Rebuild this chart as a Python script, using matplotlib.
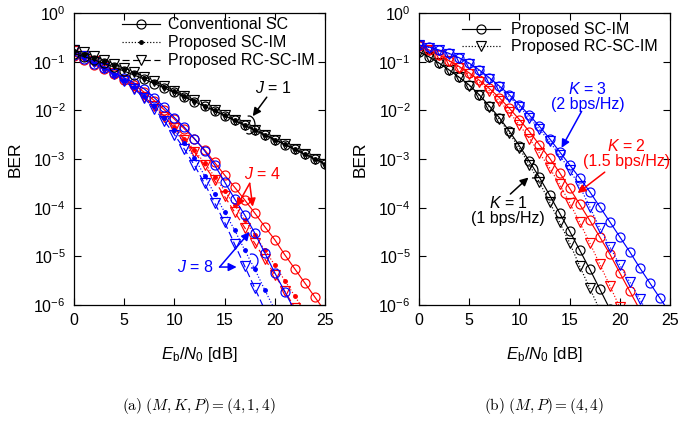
import numpy as np
import matplotlib
matplotlib.use("Agg")
import matplotlib.pyplot as plt
from matplotlib.patches import Arc
from matplotlib.font_manager import FontProperties

plt.rcParams['font.family'] = ['Liberation Sans', 'DejaVu Sans']
plt.rcParams['mathtext.fontset'] = 'custom'
plt.rcParams['mathtext.rm'] = 'Liberation Sans'
plt.rcParams['mathtext.it'] = 'Liberation Sans:italic'
plt.rcParams['mathtext.bf'] = 'Liberation Sans:bold'

# ---------------- data (log10 BER) ----------------
snr = list(range(0, 26))

# (a) (M,K,P) = (4,1,4)
a_j1_conv = [-0.835, -0.896, -0.963, -1.036, -1.113, -1.194, -1.276, -1.361, -1.450, -1.541,
             -1.633, -1.727, -1.821, -1.917, -2.013, -2.112, -2.208, -2.310, -2.409, -2.508,
             -2.605, -2.704, -2.803, -2.903, -3.000, -3.102]
a_j1_scim = [-0.783, -0.848, -0.917, -0.991, -1.071, -1.155, -1.237, -1.328, -1.420, -1.516,
             -1.611, -1.708, -1.804, -1.903, -2.000, -2.102, -2.201, -2.301, -2.398, -2.502,
             -2.602, -2.699, -2.801, -2.900, -3.000, -3.102]
a_j1_rc = [-0.770, -0.810, -0.886, -0.963, -1.046, -1.131, -1.215, -1.310, -1.403, -1.502,
           -1.602, -1.699, -1.796, -1.896, -1.996, -2.097, -2.201, -2.301, -2.398, -2.502,
           -2.602, -2.699, -2.801, -2.900, -3.000, -3.102]

a_j4_conv = [-0.88, -0.97, -1.06, -1.16, -1.26, -1.37, -1.47, -1.63, -1.80, -1.99,
             -2.18, -2.38, -2.59, -2.81, -3.07, -3.33, -3.58, -3.84, -4.11, -4.39,
             -4.66, -4.97, -5.26, -5.55, -5.84, -6.13]
a_j4_scim = [-0.83, -0.93, -1.04, -1.15, -1.27, -1.40, -1.55, -1.72, -1.92, -2.13,
             -2.35, -2.58, -2.82, -3.08, -3.36, -3.65, -3.95, -4.25, -4.56, -4.87,
             -5.18, -5.50, -5.82, -6.14]
a_j4_rc = [-0.78, -0.88, -0.99, -1.11, -1.24, -1.38, -1.54, -1.72, -1.92, -2.13,
           -2.36, -2.60, -2.86, -3.13, -3.44, -3.77, -4.09, -4.41, -4.73, -5.05,
           -5.38, -5.72, -6.06]

a_j8_conv = [-0.86, -0.95, -1.04, -1.13, -1.23, -1.33, -1.44, -1.56, -1.74, -1.94,
             -2.15, -2.35, -2.58, -2.83, -3.12, -3.47, -3.82, -4.15, -4.52, -4.93,
             -5.34, -5.73, -6.12]
a_j8_scim = [-0.81, -0.91, -1.02, -1.13, -1.25, -1.38, -1.53, -1.71, -1.92, -2.15,
             -2.40, -2.67, -2.98, -3.34, -3.72, -4.09, -4.46, -4.87, -5.26, -5.69,
             -6.10]
a_j8_rc = [-0.77, -0.88, -1.00, -1.12, -1.25, -1.39, -1.56, -1.75, -1.97, -2.22,
           -2.50, -2.80, -3.13, -3.50, -3.90, -4.30, -4.75, -5.20, -5.65, -6.10]

# (b) (M,P) = (4,4)
b_k1_scim = [-0.80, -0.90, -1.03, -1.17, -1.32, -1.48, -1.68, -1.91, -2.15, -2.43,
             -2.73, -3.05, -3.38, -3.74, -4.11, -4.48, -4.87, -5.26, -5.67, -6.08]
b_k1_rc = [-0.80, -0.90, -1.03, -1.17, -1.32, -1.49, -1.69, -1.93, -2.18, -2.47,
           -2.78, -3.12, -3.48, -3.88, -4.30, -4.72, -5.20, -5.65, -6.10]
b_k2_scim = [-0.68, -0.76, -0.86, -0.98, -1.10, -1.23, -1.38, -1.55, -1.74, -1.96,
             -2.19, -2.44, -2.71, -2.98, -3.28, -3.60, -3.93, -4.26, -4.60, -4.95,
             -5.34, -5.72, -6.10]
b_k2_rc = [-0.68, -0.77, -0.87, -0.99, -1.12, -1.26, -1.42, -1.60, -1.80, -2.04,
           -2.30, -2.58, -2.88, -3.18, -3.52, -3.90, -4.30, -4.72, -5.16, -5.60,
           -6.05]
b_k3_scim = [-0.66, -0.70, -0.76, -0.83, -0.92, -1.03, -1.17, -1.33, -1.50, -1.68,
             -1.89, -2.10, -2.33, -2.58, -2.85, -3.12, -3.39, -3.67, -3.98, -4.29,
             -4.60, -4.91, -5.24, -5.55, -5.86, -6.17]
b_k3_rc = [-0.66, -0.71, -0.77, -0.84, -0.93, -1.05, -1.19, -1.35, -1.53, -1.72,
           -1.93, -2.15, -2.39, -2.64, -2.92, -3.22, -3.56, -3.98, -4.42, -4.80,
           -5.18, -5.53, -5.88, -6.25]

legend_a = ['Conventional SC', 'Proposed SC-IM', 'Proposed RC-SC-IM']
legend_b = ['Proposed SC-IM', 'Proposed RC-SC-IM']
xticks = [0, 5, 10, 15, 20, 25]
yticks = [1e-6, 1e-5, 1e-4, 1e-3, 1e-2, 1e-1, 1e0]

# ---------------- figure ----------------
fig = plt.figure(figsize=(6.91, 4.24), dpi=100)
W, H = 691.0, 424.0
axa = fig.add_axes([74 / W, 1 - 305 / H, 251 / W, 292 / H])
axb = fig.add_axes([419 / W, 1 - 305 / H, 251 / W, 292 / H])

FS = 11.5
MS = 6.5
LW = 0.85


def series(ax, vals, color, kind, label=None):
    x = snr[:len(vals)]
    y = 10.0 ** np.array(vals)
    if kind == 'conv':
        ax.plot(x, y, color=color, lw=LW, ls='-', marker='o', ms=MS,
                mfc='none', mec=color, mew=0.85, label=label)
    elif kind == 'scim':
        ax.plot(x, y, color=color, lw=LW, ls=(0, (1, 1.6)), marker='.', ms=5,
                mfc=color, mec=color, label=label)
    elif kind == 'rc':
        ax.plot(x, y, color=color, lw=LW, ls=(0, (6, 3)), marker='v', ms=MS,
                mfc='none', mec=color, mew=0.85, label=label)
    elif kind == 'rcdot':
        ax.plot(x, y, color=color, lw=LW, ls=(0, (1, 1.6)), marker='v', ms=MS,
                mfc='none', mec=color, mew=0.85, label=label)


red = '#ff0000'
blue = '#0000ff'
blk = '#000000'

# panel (a)
series(axa, a_j4_conv, red, 'conv')
series(axa, a_j4_scim, red, 'scim')
series(axa, a_j4_rc, red, 'rc')
series(axa, a_j8_conv, blue, 'conv')
series(axa, a_j8_scim, blue, 'scim')
series(axa, a_j8_rc, blue, 'rc')
series(axa, a_j1_conv, blk, 'conv', legend_a[0])
series(axa, a_j1_scim, blk, 'scim', legend_a[1])
series(axa, a_j1_rc, blk, 'rc', legend_a[2])

# panel (b)
series(axb, b_k1_scim, blk, 'conv', legend_b[0])
series(axb, b_k1_rc, blk, 'rcdot', legend_b[1])
series(axb, b_k2_scim, red, 'conv')
series(axb, b_k2_rc, red, 'rcdot')
series(axb, b_k3_scim, blue, 'conv')
series(axb, b_k3_rc, blue, 'rcdot')

for ax in (axa, axb):
    ax.set_yscale('log')
    ax.set_xlim(0, 25)
    ax.set_ylim(1e-6, 1e0)
    ax.set_xticks(xticks)
    ax.set_yticks(yticks)
    ax.yaxis.set_minor_locator(matplotlib.ticker.NullLocator())
    ax.tick_params(which='both', direction='in', top=True, right=True,
                   length=5, width=0.8, labelsize=FS, pad=6)
    for s in ax.spines.values():
        s.set_linewidth(0.9)
    ax.set_xlabel(r'$E_\mathrm{b}/N_0$ [dB]', fontsize=FS + 0.5, labelpad=12)
    ax.set_ylabel('BER', fontsize=FS + 1, labelpad=8)

leg = axa.legend(loc='upper left', bbox_to_anchor=(0.19, 0.985), frameon=False,
                 fontsize=FS, handlelength=2.4, handletextpad=0.5, labelspacing=0.18,
                 borderpad=0, borderaxespad=0, numpoints=1)
legb = axb.legend(loc='upper left', bbox_to_anchor=(0.17, 0.968), frameon=False,
                  fontsize=FS, handlelength=2.4, handletextpad=0.7, labelspacing=0.12,
                  borderpad=0, borderaxespad=0, numpoints=1)

# ---------------- annotations ----------------
ap = dict(arrowstyle='-|>', lw=1.1, mutation_scale=12, shrinkA=0, shrinkB=0)


def arrow(ax, xy_from, xy_to, color):
    ax.annotate('', xy=xy_to, xytext=xy_from, xycoords='data', textcoords='data',
                arrowprops=dict(ap, color=color))


def arc(ax, cx, cy, w, h, t1, t2, color, x0):
    # centre / size in pixels, converted to axes fraction
    ax.add_patch(Arc(((cx - x0) / 251.0, (305 - cy) / 292.0), w / 251.0, h / 292.0,
                     theta1=t1, theta2=t2, transform=ax.transAxes, color=color, lw=0.9))


# (a)
axa.text(19.8, 10 ** -1.54, r'$J$ = 1', color=blk, fontsize=FS, ha='center', va='center')
arrow(axa, (19.2, 10 ** -1.73), (17.8, 10 ** -2.12), blk)
arc(axa, 249, 125, 12, 18, -110, 100, blk, 74)

axa.text(18.8, 10 ** -3.31, r'$J$ = 4', color=red, fontsize=FS, ha='center', va='center')
arrow(axa, (17.5, 10 ** -3.50), (16.2, 10 ** -3.98), red)
arrow(axa, (17.5, 10 ** -3.50), (17.8, 10 ** -3.98), red)

axa.text(12.1, 10 ** -5.22, r'$J$ = 8', color=blue, fontsize=FS, ha='center', va='center')
arrow(axa, (14.5, 10 ** -5.22), (16.2, 10 ** -5.22), blue)
arrow(axa, (14.5, 10 ** -5.22), (17.5, 10 ** -4.50), blue)
arc(axa, 252, 261, 12, 14, -100, 110, blue, 74)

# (b)
axb.text(16.8, 10 ** -1.72, '$K$ = 3\n(2 bps/Hz)', color=blue, fontsize=FS,
         ha='center', va='center', linespacing=1.0)
arrow(axb, (16.2, 10 ** -2.02), (14.2, 10 ** -2.77), blue)

axb.text(20.7, 10 ** -2.89, '$K$ = 2\n(1.5 bps/Hz)', color=red, fontsize=FS,
         ha='center', va='center', linespacing=1.0)
arrow(axb, (18.5, 10 ** -3.27), (15.8, 10 ** -3.70), red)
arc(axb, 569, 194, 16, 10, 150, 330, red, 419)

axb.text(8.9, 10 ** -4.06, '$K$ = 1\n(1 bps/Hz)', color=blk, fontsize=FS,
         ha='center', va='center', linespacing=1.0)
arrow(axb, (9.1, 10 ** -3.72), (10.9, 10 ** -3.38), blk)
arc(axb, 533, 171, 10, 14, -100, 100, blk, 419)

# ---------------- captions ----------------
cap = FontProperties(family='DejaVu Serif', size=11)
cap.set_math_fontfamily('cm')
fig.text(199 / W, 1 - 406 / H, r'$\mathrm{(a)}\ (M, K, P) = (4, 1, 4)$',
         fontproperties=cap, ha='center', va='center')
fig.text(544 / W, 1 - 406 / H, r'$\mathrm{(b)}\ (M, P) = (4, 4)$',
         fontproperties=cap, ha='center', va='center')

fig.savefig('out.png', dpi=100)
